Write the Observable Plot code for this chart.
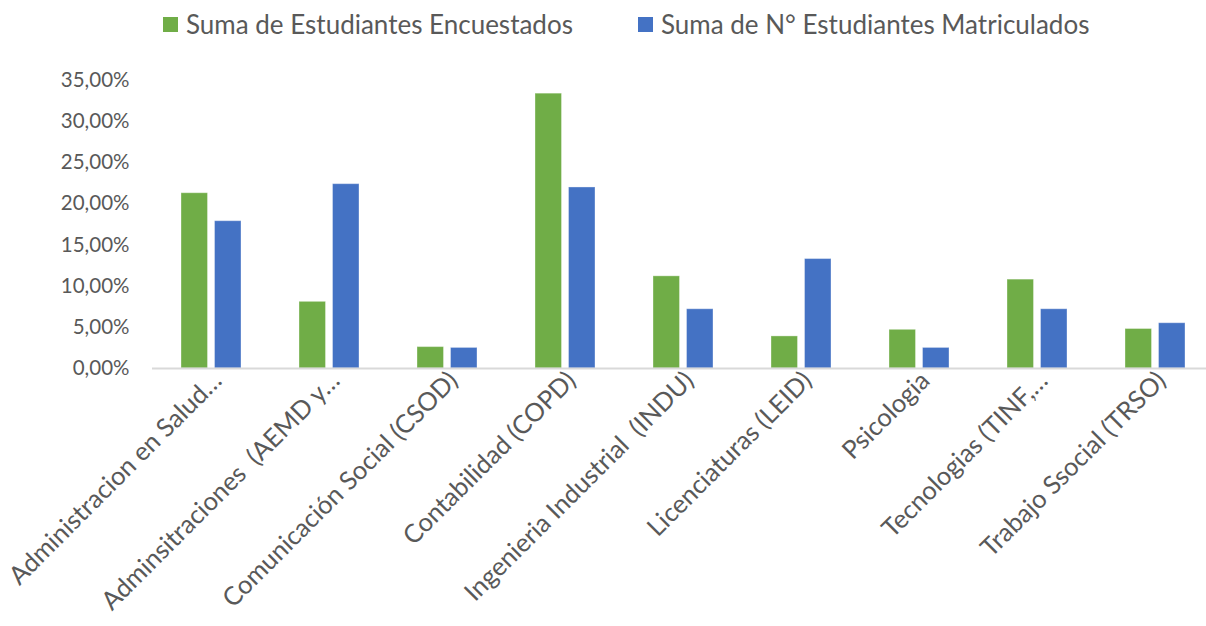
<!DOCTYPE html>
<html><head><meta charset="utf-8">
<script src="https://cdn.jsdelivr.net/npm/d3@7"></script>
<script src="https://cdn.jsdelivr.net/npm/@observablehq/plot@0.6"></script>
<style>
body{margin:0;background:#fff;font-family:Lato,"Open Sans",sans-serif;}
#legend{height:48px;position:relative;}
.item{position:absolute;top:0;display:flex;align-items:center;height:48px;color:#595959;font-size:26px;white-space:nowrap;}
.sw{width:15px;height:15px;margin-right:8px;}
#chart svg{white-space:pre;}
</style></head><body>
<div id="legend"></div>
<div id="chart"></div>
<script>
const categories = [
  "Administracion en Salud…",
  "Adminsitraciones  (AEMD y…",
  "Comunicación Social (CSOD)",
  "Contabilidad (COPD)",
  "Ingenieria Industrial  (INDU)",
  "Licenciaturas (LEID)",
  "Psicologia",
  "Tecnologias (TINF,…",
  "Trabajo Ssocial (TRSO)"
];
const encuestados = [21.3, 8.1, 2.6, 33.4, 11.2, 3.9, 4.7, 10.8, 4.8];
const matriculados = [17.9, 22.4, 2.5, 22.0, 7.2, 13.3, 2.5, 7.2, 5.5];
const seriesNames = ["Suma de Estudiantes Encuestados", "Suma de N° Estudiantes Matriculados"];
const seriesColors = ["#70AD47", "#4472C4"];
const yTicks = [0, 5, 10, 15, 20, 25, 30, 35];

const legendLeft = [163, 638];
const legend = document.getElementById("legend");
seriesNames.forEach((n, i) => {
  const it = document.createElement("div");
  it.className = "item";
  it.style.left = legendLeft[i] + "px";
  it.innerHTML = `<span class="sw" style="background:${seriesColors[i]}"></span><span>${n}</span>`;
  legend.appendChild(it);
});

const dataG = categories.map((c, i) => ({cat: c, v: encuestados[i]}));
const dataB = categories.map((c, i) => ({cat: c, v: matriculados[i]}));
const fmt = d => d.toFixed(2).replace(".", ",") + "%";

const chart = Plot.plot({
  width: 1206,
  height: 578,
  marginTop: 32,
  marginBottom: 258,
  marginLeft: 152,
  marginRight: -8,
  style: {fontFamily: 'Lato, "Open Sans", sans-serif', color: "#595959", background: "#fff"},
  x: {domain: categories, padding: 0, label: null},
  y: {domain: [0, 35], label: null},
  marks: [
    Plot.barY(dataG, {x: "cat", y: "v", fill: seriesColors[0], insetLeft: 29, insetRight: 62.5, stroke: "#ffffff", strokeOpacity: 0.35, strokeWidth: 1}),
    Plot.barY(dataB, {x: "cat", y: "v", fill: seriesColors[1], insetLeft: 62.5, insetRight: 29, stroke: "#ffffff", strokeOpacity: 0.35, strokeWidth: 1}),
    Plot.ruleY([0], {stroke: "#D9D9D9", strokeWidth: 2}),
    Plot.axisY({ticks: yTicks, tickFormat: fmt, tickSize: 0, tickPadding: 23, fontSize: 20.5, fill: "#595959", label: null}),
    Plot.axisX({tickSize: 0, tickPadding: 12, tickRotate: -45, fontSize: 25.5, dx: 6, dy: -4, fill: "#595959", label: null})
  ]
});
document.getElementById("chart").appendChild(chart);
</script>
</body></html>
